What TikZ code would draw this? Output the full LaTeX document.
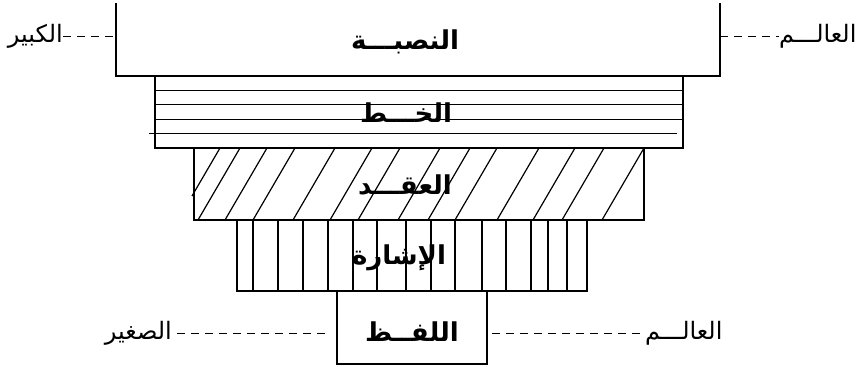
\documentclass[tikz,border=0pt]{standalone}
\usepackage{fontspec}
\newfontfamily\arabicfont[Script=Arabic]{DejaVu Sans}
\TeXXeTstate=1
\begin{document}
\begin{tikzpicture}[x=1pt,y=-1pt,
  frame/.style={draw, line width=1.3pt, line join=miter},
  rule/.style={line width=1.2pt},
  boxlabel/.style={font=\arabicfont\bfseries\fontsize{26}{30}\selectfont, inner sep=0pt},
  sidelabel/.style={font=\arabicfont\fontsize{24}{28}\selectfont, inner sep=0pt},
  guide/.style={line width=1pt, dash pattern=on 8pt off 6pt}]
\useasboundingbox (0,0) rectangle (868,367);

% layer outlines (top layer is open at the upper edge)
\draw[frame] (116,3) -- (116,76) -- (720,76) -- (720,3);
\draw[frame] (155,76) rectangle (683,148);
\draw[frame] (194,148) rectangle (644,220);
\draw[frame] (237,220) rectangle (587,291);
\draw[frame] (337,291) rectangle (487,364);

% second layer: horizontal rules
\foreach \y in {90.4,104.8,119.2}
  \draw[rule] (155,\y) -- (683,\y);
\draw[rule] (149,133.6) -- (677,133.6);

% third layer: slanted hatching
\draw[rule] (220,148) -- (192,196);
\foreach \xb in {198,225,253,293,330,358,398,428,455,497,533,562,602}
  \draw[rule] (\xb,220) -- (\xb+42,148);

% fourth layer: vertical rules
\foreach \xv in {253,278,303,328,353,377,406,431,455,482,506,531,548,567}
  \draw[rule] (\xv,220) -- (\xv,291);

% layer labels
\node[boxlabel] (nasaba) at (405,42) {\beginR النصبـــة\endR};
\node[boxlabel] (khatt) at (406,113) {\beginR الخـــط\endR};
\node[boxlabel] (aqd) at (405,185) {\beginR العقـــد\endR};
\node[boxlabel] (ishara) at (399,258) {\beginR الإشارة\endR};
\node[boxlabel] (lafz) at (412,332) {\beginR اللفــظ\endR};

% side labels
\node[sidelabel, anchor=east] (kabir) at (63,36) {\beginR الكبير\endR};
\node[sidelabel, anchor=west] (alamTop) at (779,36) {\beginR العالـــم\endR};
\node[sidelabel, anchor=east] (saghir) at (172,333) {\beginR الصغير\endR};
\node[sidelabel, anchor=west] (alamBot) at (645,333) {\beginR العالـــم\endR};

% attachment points on the layer sides
\coordinate (topL) at (116,36);
\coordinate (topR) at (720,36);
\coordinate (botL) at (328,333);
\coordinate (botR) at (492,333);

% dashed guides
\draw[guide] (kabir.east) -- (topL);
\draw[guide] (topR) -- (alamTop.west);
\draw[guide] (saghir.east) ++(5,0) -- (botL);
\draw[guide] (botR) -- (alamBot.west);
\end{tikzpicture}
\end{document}
